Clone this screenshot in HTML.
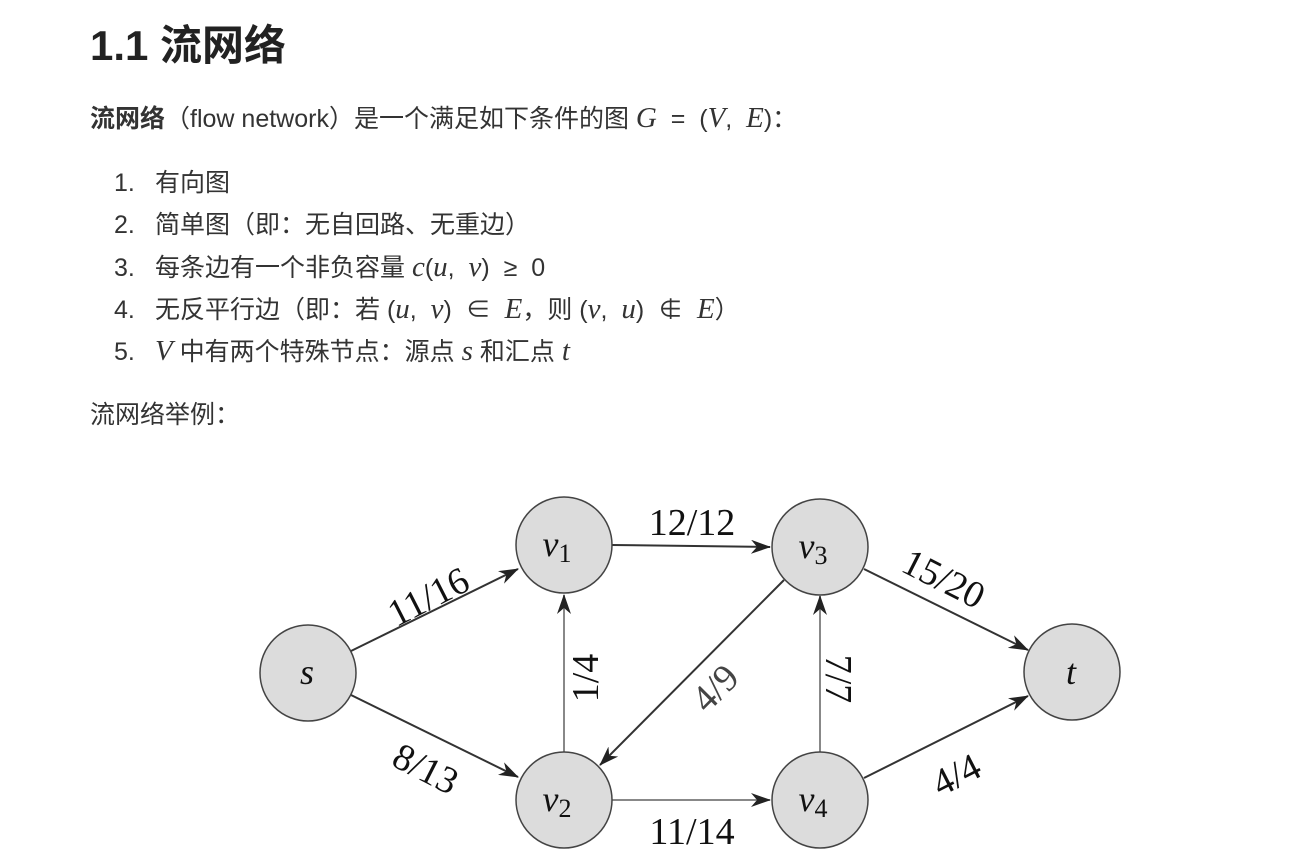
<!DOCTYPE html>
<html><head><meta charset="utf-8"><style>
body{margin:0;width:1296px;height:866px;background:#fff;overflow:hidden;font-family:"Liberation Sans","Noto Sans CJK SC",sans-serif;color:#333}
.t{position:absolute;white-space:nowrap}
h1{position:absolute;left:90px;top:12px;margin:0;font-size:42px;font-weight:bold;color:#222}
.p{font-size:25px;left:90px}
.li{font-size:25px;left:114px}
.n{display:inline-block;width:41px}
i{font-family:"Liberation Serif",serif;font-size:29px}
</style></head><body>
<h1>1.1 流网络</h1>
<div class="t p" style="top:99px"><b>流网络</b>（flow network）是一个满足如下条件的图 <i>G</i> &nbsp;= &nbsp;(<i>V</i>, &nbsp;<i>E</i>)：</div>
<div class="t li" style="top:163px"><span class="n">1.</span>有向图</div>
<div class="t li" style="top:205px"><span class="n">2.</span>简单图（即：无自回路、无重边）</div>
<div class="t li" style="top:248px"><span class="n">3.</span>每条边有一个非负容量 <i>c</i>(<i>u</i>, &nbsp;<i>v</i>) &nbsp;≥ &nbsp;0</div>
<div class="t li" style="top:290px"><span class="n">4.</span>无反平行边（即：若 (<i>u</i>, &nbsp;<i>v</i>) &nbsp;∈ &nbsp;<i>E</i>，则 (<i>v</i>, &nbsp;<i>u</i>) &nbsp;∉ &nbsp;<i>E</i>）</div>
<div class="t li" style="top:332px"><span class="n">5.</span><i>V</i> 中有两个特殊节点：源点 <i>s</i> 和汇点 <i>t</i></div>
<div class="t p" style="top:395px">流网络举例：</div>
<svg width="1296" height="866" style="position:absolute;left:0;top:0" font-family="Liberation Serif,serif">
<defs><marker id="a" markerWidth="20" markerHeight="14" refX="19" refY="7" orient="auto" markerUnits="userSpaceOnUse"><path d="M0,0 L20,7 L0,14 L6,7z" fill="#222"/></marker></defs>
<g stroke="#333" stroke-width="2" fill="none" marker-end="url(#a)">
<line x1="351" y1="651" x2="518" y2="569"/>
<line x1="351" y1="695" x2="518" y2="777"/>
<line x1="564" y1="752" x2="564" y2="595" stroke="#888"/>
<line x1="612" y1="545" x2="770" y2="547"/>
<line x1="784" y1="580" x2="600" y2="765"/>
<line x1="612" y1="800" x2="770" y2="800" stroke="#888"/>
<line x1="820" y1="752" x2="820" y2="596" stroke="#888"/>
<line x1="864" y1="569" x2="1028" y2="650"/>
<line x1="864" y1="778" x2="1028" y2="696"/>
</g>
<g fill="#dcdcdc" stroke="#444" stroke-width="1.5">
<circle cx="308" cy="673" r="48"/><circle cx="564" cy="545" r="48"/><circle cx="820" cy="547" r="48"/>
<circle cx="1072" cy="672" r="48"/><circle cx="564" cy="800" r="48"/><circle cx="820" cy="800" r="48"/>
</g>
<g font-style="italic" font-size="36" fill="#111" text-anchor="middle">
<text x="307" y="684">s</text><text x="1071" y="684">t</text>
<text x="557" y="556">v<tspan font-size="26" font-style="normal" dy="6">1</tspan></text>
<text x="813" y="558">v<tspan font-size="26" font-style="normal" dy="6">3</tspan></text>
<text x="557" y="811">v<tspan font-size="26" font-style="normal" dy="6">2</tspan></text>
<text x="813" y="811">v<tspan font-size="26" font-style="normal" dy="6">4</tspan></text>
</g>
<g font-size="38" fill="#111" text-anchor="middle">
<text transform="translate(434,608) rotate(-27)">11/16</text>
<text transform="translate(420,780) rotate(27)">8/13</text>
<text transform="translate(598,678) rotate(-90)">1/4</text>
<text x="692" y="535">12/12</text>
<text transform="translate(724,697) rotate(-45)" fill="#444">4/9</text>
<text x="692" y="844">11/14</text>
<text transform="translate(826,679) rotate(90)">7/7</text>
<text transform="translate(938,590) rotate(27)">15/20</text>
<text transform="translate(962,786) rotate(-27)">4/4</text>
</g>
</svg>
</body></html>
